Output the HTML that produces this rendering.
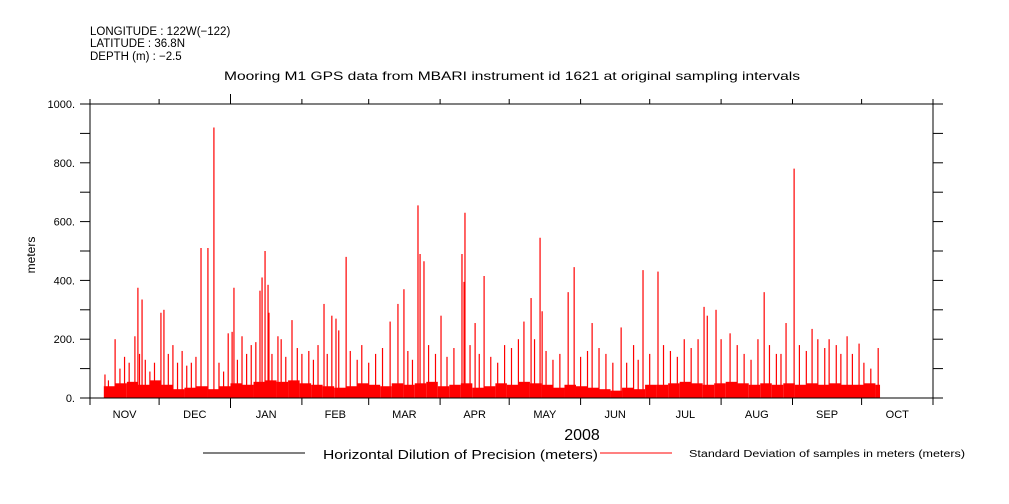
<!DOCTYPE html>
<html><head><meta charset="utf-8"><style>
body{margin:0;background:#fff;}
svg{display:block;font-family:"Liberation Sans",sans-serif;}
</style></head><body>
<svg id="chart" width="1009" height="504" viewBox="0 0 1009 504" xmlns="http://www.w3.org/2000/svg">
<g font-size="11.5" fill="#000">
<text x="90" y="35">LONGITUDE : 122W(−122)</text>
<text x="90" y="47">LATITUDE : 36.8N</text>
<text x="90" y="60">DEPTH (m) : −2.5</text>
</g>
<text x="224" y="80" font-size="12" textLength="576" lengthAdjust="spacingAndGlyphs">Mooring M1 GPS data from MBARI instrument id 1621 at original sampling intervals</text>
<text transform="translate(35,255) rotate(-90)" font-size="12" text-anchor="middle">meters</text>
<g id="bars"></g>
<g id="axes" stroke="#000" fill="none"></g>
<g id="labels" font-size="11" fill="#000"></g>
<text x="582" y="440" font-size="16" text-anchor="middle">2008</text>
<g>
<line x1="203" y1="453" x2="305" y2="453" stroke="#000"/>
<text x="323" y="459" font-size="13" textLength="275" lengthAdjust="spacingAndGlyphs">Horizontal Dilution of Precision (meters)</text>
<line x1="600" y1="453" x2="672" y2="453" stroke="#f00"/>
<text x="689" y="457" font-size="10" textLength="276" lengthAdjust="spacingAndGlyphs">Standard Deviation of samples in meters (meters)</text>
</g>
</svg>
<script>
const months = ["NOV","DEC","JAN","FEB","MAR","APR","MAY","JUN","JUL","AUG","SEP","OCT"];
const monthDays = [30,31,31,29,31,30,31,30,31,31,30,31];
const yTicks = [0,200,400,600,800,1000];
const yTickLabels = ["0.","200.","400.","600.","800.","1000."];
// baseline fill level per 5-day bin starting at day 6, ending day 343
const baseStart = 6;
const baseEnd = 343;
const baseValues = [40,50,55,45,60,45,30,35,40,30,40,50,45,55,60,55,60,50,45,40,35,40,50,45,40,50,45,50,55,40,45,50,35,40,50,45,55,50,45,35,45,40,35,30,25,35,30,45,45,50,55,50,45,50,55,50,45,50,45,50,45,50,45,50,45,45,50,45];
// spike days and values
const spikeDays = [
6.5,8,10.9,13,15,17,19.5,20.8,21.5,22.6,
24,26,28,30.8,32.1,34,36,38,40,42,
44,46,48.2,51.2,53.8,56,58,60,61.7,62.5,
64,66,68,70,72,73.8,74.7,76,77.3,77.7,
79,81.6,83,85,87.7,90,92,95,97,99,
101.6,103,105,106.8,108,111.2,113,116,118,121,
124,127,130.3,133.7,136.3,138,140,142.4,143.3,145,
147,150,152.4,155,158,161.5,162.4,162.8,165,167.2,
169,171.1,174,177,180,183,186,188.4,191.5,193,
195.4,196.3,198,201,204,207.6,210.2,213,216,218,
221,224,227,230.6,233,236,238,240.1,243,246.6,
249,252,255,258,261,264,266.6,268,271.8,274,
277.9,281,284,287,290,292.7,295,298,300,302.2,
305.7,308,311,313.5,316,319,320.9,324,326,328.7,
331,333.9,336,339,342.2];
const spikeValues = [
80,60,200,100,140,120,210,375,150,335,
130,90,120,290,300,150,180,120,160,110,
120,140,510,510,920,120,90,220,225,375,
130,210,150,180,190,365,410,500,385,290,
150,210,200,140,265,170,150,160,130,180,
320,150,280,270,230,480,160,130,180,120,
150,170,260,320,370,160,130,655,490,465,
180,150,280,140,170,490,395,630,180,255,
150,415,140,120,180,170,200,260,340,200,
545,295,160,130,150,360,445,140,160,255,
170,150,120,240,120,180,130,435,150,430,
180,160,140,200,170,200,310,280,300,200,
220,180,150,130,200,360,180,150,150,255,
780,180,160,235,200,170,200,180,150,210,
150,185,120,100,170];
const X0 = 90, X1 = 933, Y0 = 398, Y1 = 104;
const totalDays = monthDays.reduce((a,b)=>a+b,0);
const xScale = d => X0 + d*(X1-X0)/totalDays;
const yScale = v => Y0 - v*(Y0-Y1)/1000;
const NS = "http://www.w3.org/2000/svg";
function mk(tag, attrs, parent){const e=document.createElementNS(NS,tag);for(const k in attrs)e.setAttribute(k,attrs[k]);parent.appendChild(e);return e;}
const bars = document.getElementById('bars');
baseValues.forEach((v,i)=>{
  const d = baseStart + i*5;
  const end = Math.min(d+5, baseEnd);
  if(end<=d) return;
  const r = mk('rect',{x:xScale(d),y:yScale(v),width:xScale(end)-xScale(d),height:Y0-yScale(v),fill:'#f00'},bars);
  
  
});
const nSpikes = Math.min(spikeDays.length, spikeValues.length);
for(let i=0;i<nSpikes;i++){
  const l = mk('line',{x1:xScale(spikeDays[i]),x2:xScale(spikeDays[i]),y1:Y0,y2:yScale(spikeValues[i]),stroke:'#f00','stroke-width':1.2},bars);
  
  
}
const ax = document.getElementById('axes');
mk('rect',{x:X0,y:Y1,width:X1-X0,height:Y0-Y1},ax);
const lab = document.getElementById('labels');
for(let v=0; v<=1000; v+=100){
  mk('line',{x1:X0-10,x2:X0,y1:yScale(v),y2:yScale(v)},ax);
  mk('line',{x1:X1,x2:X1+10,y1:yScale(v),y2:yScale(v)},ax);
}
yTicks.forEach((v,i)=>{
  const t = mk('text',{x:X0-15,y:yScale(v)+4,'text-anchor':'end'},lab);
  t.textContent = yTickLabels[i];
  
  
});
let cum = 0;
months.forEach((m,i)=>{
  const xs = xScale(cum);
  const big = (m==="JAN");
  mk('line',{x1:xs,x2:xs,y1:Y0,y2:Y0+(big?10:7)},ax);
  mk('line',{x1:xs,x2:xs,y1:Y1,y2:Y1-(big?10:5)},ax);
  const t = mk('text',{x:xScale(cum+monthDays[i]/2),y:418,'text-anchor':'middle'},lab);
  t.textContent = m;
  
  
  cum += monthDays[i];
});
mk('line',{x1:X1,x2:X1,y1:Y0,y2:Y0+7},ax);
mk('line',{x1:X1,x2:X1,y1:Y1,y2:Y1-5},ax);
</script>
</body></html>
